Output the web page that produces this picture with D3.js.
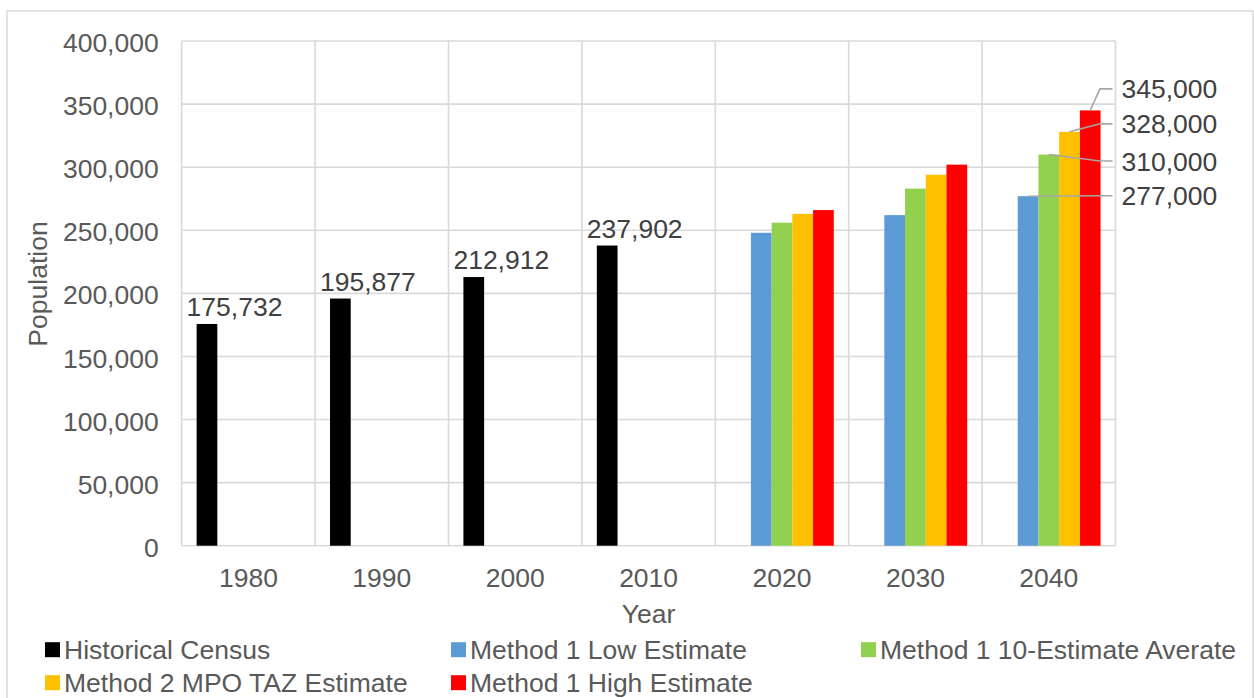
<!DOCTYPE html>
<html>
<head>
<meta charset="utf-8">
<script src="https://cdn.jsdelivr.net/npm/d3@7"></script>
<style>
  html, body { margin: 0; padding: 0; background: #fff; }
  svg text { font-family: "Liberation Sans", Arial, sans-serif; }
</style>
</head>
<body>
<svg id="chart" width="1254" height="698"></svg>
<script>
// ---- data ----
const years = ["1980", "1990", "2000", "2010", "2020", "2030", "2040"];
const seriesNames = [
  "Historical Census",
  "Method 1 Low Estimate",
  "Method 1 10-Estimate Averate",
  "Method 2 MPO TAZ Estimate",
  "Method 1 High Estimate"
];
const historicalCensus = [175732, 195877, 212912, 237902, null, null, null];
const method1Low       = [null, null, null, null, 248000, 262000, 277000];
const method1Average   = [null, null, null, null, 256000, 283000, 310000];
const method2MpoTaz    = [null, null, null, null, 263000, 294000, 328000];
const method1High      = [null, null, null, null, 266000, 302000, 345000];
const seriesValues = [historicalCensus, method1Low, method1Average, method2MpoTaz, method1High];
const seriesColors = ["#000000", "#5b9bd5", "#92d050", "#ffc000", "#ff0000"];
const yTicks = [0, 50000, 100000, 150000, 200000, 250000, 300000, 350000, 400000];

// ---- layout ----
const W = 1254, H = 698;
const plot = { left: 181.7, right: 1115.5, top: 41, bottom: 545.7 };
const fontSize = 26.5;
const axisText = "#595959";
const labelText = "#404040";
const gridColor = "#d9d9d9";

const svg = d3.select("#chart");

// outer chart frame
svg.append("rect")
  .attr("x", 7).attr("y", 11)
  .attr("width", W - 8).attr("height", H + 20)
  .attr("fill", "none").attr("stroke", "#d9d9d9").attr("stroke-width", 1.5);

const y = d3.scaleLinear().domain([0, 400000]).range([plot.bottom, plot.top]);
const x0 = d3.scaleBand().domain(years).range([plot.left, plot.right]).padding(0);
const x1 = d3.scaleBand().domain(seriesNames).range([0, x0.bandwidth()])
  .paddingInner(0).paddingOuter(0.72);

// gridlines
const grid = svg.append("g");
grid.selectAll("line.h").data(yTicks).join("line")
  .attr("x1", plot.left).attr("x2", plot.right)
  .attr("y1", d => y(d)).attr("y2", d => y(d))
  .attr("stroke", gridColor).attr("stroke-width", 1.6);
const bounds = years.map(d => x0(d)).concat([plot.right]);
grid.selectAll("line.v").data(bounds).join("line")
  .attr("x1", d => d).attr("x2", d => d)
  .attr("y1", plot.top).attr("y2", plot.bottom)
  .attr("stroke", gridColor).attr("stroke-width", 1.6);

// y axis
const yAxis = svg.append("g")
  .attr("transform", `translate(${plot.left},0)`)
  .call(d3.axisLeft(y).tickValues(yTicks).tickSize(0).tickPadding(23).tickFormat(d3.format(",")));
yAxis.select(".domain").remove();
yAxis.selectAll("text")
  .attr("font-size", fontSize).attr("fill", axisText)
  .attr("font-family", "Liberation Sans, Arial, sans-serif")
  .attr("dy", "0.4em");

// x axis
const xAxis = svg.append("g")
  .attr("transform", `translate(0,${plot.bottom})`)
  .call(d3.axisBottom(x0).tickSize(0).tickPadding(22.5));
xAxis.select(".domain").remove();
xAxis.selectAll("text")
  .attr("font-size", fontSize).attr("fill", axisText)
  .attr("font-family", "Liberation Sans, Arial, sans-serif");

// bars
const barData = [];
seriesValues.forEach((vals, si) => {
  vals.forEach((v, ci) => {
    if (v != null) barData.push({ series: seriesNames[si], si, year: years[ci], value: v });
  });
});
svg.append("g").selectAll("rect").data(barData).join("rect")
  .attr("x", d => x0(d.year) + x1(d.series))
  .attr("y", d => y(d.value))
  .attr("width", x1.bandwidth())
  .attr("height", d => y(0) - y(d.value))
  .attr("fill", d => seriesColors[d.si]);

// historical census value labels
const histBars = barData.filter(d => d.si === 0);
svg.append("g").selectAll("text").data(histBars).join("text")
  .attr("x", d => x0(d.year) + x1(d.series) - 10)
  .attr("y", d => y(d.value) - 8)
  .attr("font-size", fontSize).attr("fill", labelText)
  .text(d => d3.format(",")(d.value));

// 2040 callout labels with leader lines
const calloutNudge = { 1: 9, 2: 16, 3: 1.5, 4: -12 };
const callouts = barData.filter(d => d.year === "2040" && d.si > 0);
const labelX = plot.right + 6;
const elbowX = plot.right - 15.5;
const co = svg.append("g");
callouts.forEach(d => {
  const cx = x0(d.year) + x1(d.series) + x1.bandwidth() / 2;
  const cy = y(d.value);
  const base = cy + calloutNudge[d.si];
  const mid = base - 9.5;
  co.append("polyline")
    .attr("points", `${cx},${cy} ${elbowX},${mid} ${labelX - 9},${mid}`)
    .attr("fill", "none").attr("stroke", "#a6a6a6").attr("stroke-width", 1.6);
  co.append("text")
    .attr("x", labelX).attr("y", base)
    .attr("font-size", fontSize).attr("fill", labelText)
    .text(d3.format(",")(d.value));
});

// axis titles
svg.append("text")
  .attr("transform", "translate(47,284) rotate(-90)")
  .attr("text-anchor", "middle")
  .attr("font-size", fontSize).attr("fill", axisText)
  .text("Population");
svg.append("text")
  .attr("x", (plot.left + plot.right) / 2).attr("y", 623)
  .attr("text-anchor", "middle")
  .attr("font-size", fontSize).attr("fill", axisText)
  .text("Year");

// legend
const legendCols = [45, 451, 861];
const legendRows = [659, 692];
const legend = svg.append("g");
seriesNames.forEach((name, i) => {
  const cx = legendCols[i % 3];
  const by = legendRows[Math.floor(i / 3)];
  legend.append("rect")
    .attr("x", cx).attr("y", by - 16.8)
    .attr("width", 15).attr("height", 15)
    .attr("fill", seriesColors[i]);
  legend.append("text")
    .attr("x", cx + 19).attr("y", by)
    .attr("font-size", fontSize).attr("fill", axisText)
    .text(name);
});
</script>
</body>
</html>
